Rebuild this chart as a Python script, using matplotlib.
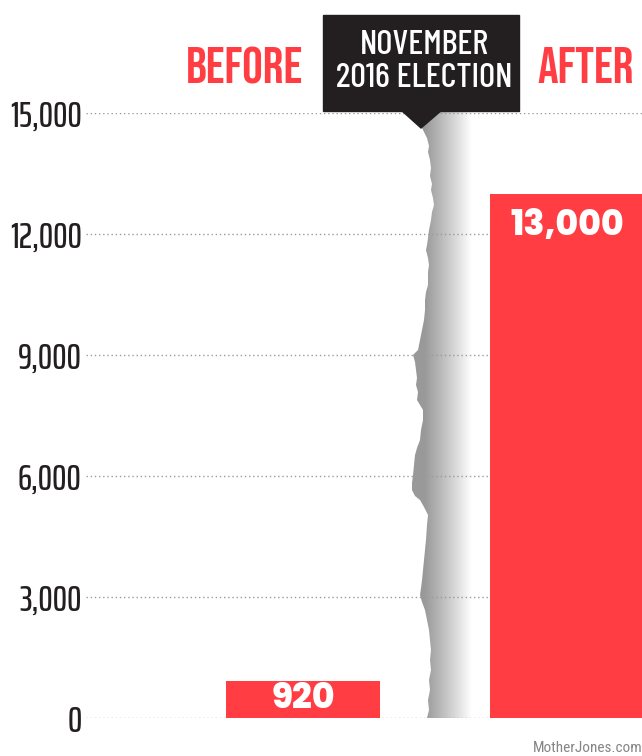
import matplotlib
matplotlib.use("Agg")
import matplotlib.pyplot as plt
import numpy as np
from matplotlib.patches import Polygon, Rectangle

# data
categories = ["BEFORE", "AFTER"]
values = [920, 13000]
value_labels = ["920", "13,000"]
yticks = [0, 3000, 6000, 9000, 12000, 15000]
ytick_labels = ["0", "3,000", "6,000", "9,000", "12,000", "15,000"]
event_label = "NOVEMBER\n2016 ELECTION"
credit = "MotherJones.com"

RED = "#ff3d43"
INK = "#231f20"
W, H = 642, 756

# torn-paper edge (pixel coords)
edge_y = [126, 132, 138, 146, 152, 160, 168, 176, 184, 190, 198, 205, 212, 220, 230, 238,
          245, 250, 258, 265, 272, 285, 292, 300, 310, 320, 330, 340, 350, 355, 362, 370,
          378, 385, 392, 400, 405, 410, 420, 430, 440, 448, 455, 465, 475, 483, 490, 496,
          500, 507, 515, 525, 540, 550, 560, 570, 580, 588, 595, 602, 610, 620, 630, 640,
          650, 660, 670, 680, 690, 700, 710, 718]
edge_x = [421, 424, 427, 429, 428, 430, 431, 430, 432, 431, 433, 434, 432, 431, 429, 428,
          427, 426, 428, 429, 428, 428, 426, 425, 425, 424, 422, 420, 418, 413, 415, 416,
          417, 416, 418, 417, 420, 423, 423, 421, 420, 417, 415, 414, 413, 412, 412, 415,
          420, 424, 428, 427, 426, 425, 424, 423, 422, 421, 420, 422, 425, 427, 429, 430,
          431, 430, 431, 429, 430, 428, 429, 427]

fig = plt.figure(figsize=(W / 100, H / 100), dpi=100)

# background layer in pixel coords: torn gap with gradient
bg = fig.add_axes([0, 0, 1, 1], zorder=0)
bg.set_xlim(0, W)
bg.set_ylim(H, 0)
bg.axis("off")
x0, x1 = 405, 480
cols = np.linspace(x0, x1, 200)
shade = 0.60 + 0.40 * np.clip((cols - 424) / 48, 0, 1) ** 1.1
grad = np.tile(shade, (2, 1))
im = bg.imshow(grad, cmap="gray", vmin=0, vmax=1, extent=[x0, x1, 718, 112],
               aspect="auto", interpolation="bilinear")
clip = Polygon(list(zip(edge_x, edge_y)) + [(x1, 718), (x1, 112), (440, 112)],
               closed=True, transform=bg.transData)
im.set_clip_path(clip)

# main chart
ax = fig.add_axes([86 / W, 38 / H, 1 - 86 / W, 605 / H], zorder=1)
ax.patch.set_visible(False)
x = np.arange(len(categories))
ax.bar(x, values, width=0.58, color=RED, zorder=3)
ax.set_xlim(-0.822, 1.284)
ax.set_ylim(0, 15000)
ax.set_yticks(yticks)
ax.set_yticklabels(ytick_labels, family="Saira ExtraCondensed", weight=500,
                   fontsize=26, color=INK)
ax.tick_params(axis="y", length=0, pad=3)
ax.set_xticks([])
for s in ax.spines.values():
    s.set_visible(False)
for t in yticks:
    ax.axhline(t, color="#9a9a9a", lw=1.0, ls=(0, (1, 2)), zorder=2)

for xi, v, lab in zip(x, values, value_labels):
    ax.text(xi, v - 380 if v > 5000 else v / 2, lab, ha="center",
            va="top" if v > 5000 else "center", color="white",
            family="Poppins", weight=800, fontsize=25, zorder=4)

# header layer in pixel coords
top = fig.add_axes([0, 0, 1, 1], zorder=2)
top.set_xlim(0, W)
top.set_ylim(H, 0)
top.axis("off")
top.add_patch(Rectangle((323, 15), 196, 96, color=INK))
top.add_patch(Polygon([(401, 110), (442, 110), (421, 128)], color=INK))
top.text(424, 62, event_label, ha="center", va="center", color="white",
         family="Barlow Condensed", weight=500, fontsize=25, linespacing=1.1)
for cx, lab in zip([245, 586], categories):
    top.text(cx, 83, lab, ha="center", va="baseline", color=RED,
             family="Bebas Neue", fontsize=37)
top.text(643, 755, credit, ha="right", va="bottom", color="#858585",
         family="Roboto Condensed", fontsize=11)

fig.savefig("out.png", dpi=100)
